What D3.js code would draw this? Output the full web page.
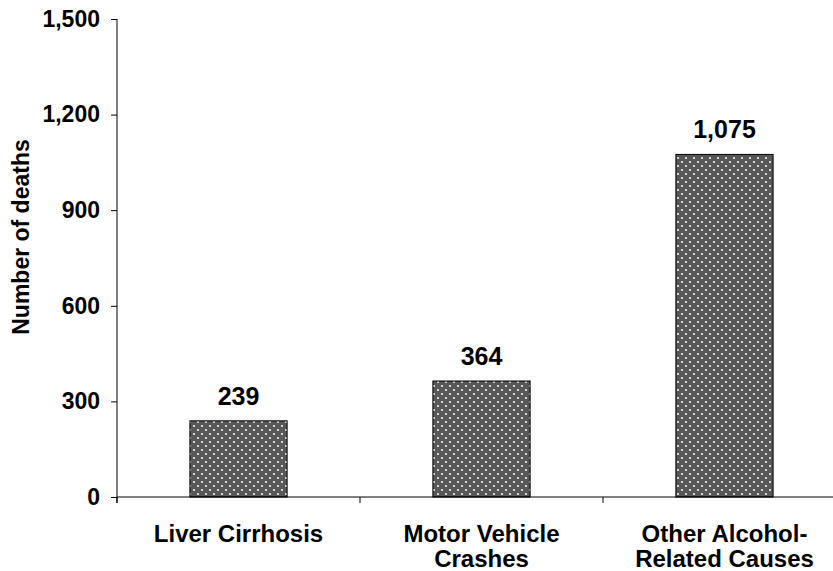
<!DOCTYPE html>
<html>
<head>
<meta charset="utf-8">
<script src="https://cdn.jsdelivr.net/npm/d3@7"></script>
<style>
  body { margin: 0; background: #fff; }
  text { font-family: "Liberation Sans", Arial, sans-serif; font-weight: bold; fill: #000; }
</style>
</head>
<body>
<svg id="chart"></svg>
<script>
var width = 833, height = 571

// data
var categories = [["Liver Cirrhosis"], ["Motor Vehicle", "Crashes"], ["Other Alcohol-", "Related Causes"]]
var deaths = [239, 364, 1075]
var yTicks = [0, 300, 600, 900, 1200, 1500]

var svg = d3.select("#chart")
    .attr("width", width)
    .attr("height", height)

// dotted fill
var defs = svg.append("defs")
var pat = defs.append("pattern")
    .attr("id", "dots")
    .attr("patternUnits", "userSpaceOnUse")
    .attr("width", 8)
    .attr("height", 8)
pat.append("rect").attr("width", 8).attr("height", 8).attr("fill", "#585858")
pat.append("rect").attr("x", 1).attr("y", 1).attr("width", 2).attr("height", 2).attr("fill", "#d4d4d4")
pat.append("rect").attr("x", 5).attr("y", 5).attr("width", 2).attr("height", 2).attr("fill", "#d4d4d4")

var x = d3.scaleBand()
    .domain(d3.range(categories.length))
    .range([117, 117 + 243 * 3])
    .paddingInner(0.6)
    .paddingOuter(0.3)

var y = d3.scaleLinear()
    .domain([0, 1500])
    .range([497, 19])

// y axis
var yAxis = svg.append("g")
    .attr("transform", "translate(117,0)")
    .call(d3.axisLeft(y).tickValues(yTicks).tickSize(6).tickPadding(11).tickFormat(d3.format(",")))
yAxis.select(".domain").attr("stroke", "#000").attr("d", "M0,19V503")
yAxis.selectAll(".tick line").attr("stroke", "#000")
yAxis.selectAll(".tick text")
    .style("font-size", "23px")
    .style("font-family", "'Liberation Sans', Arial, sans-serif")
    .style("font-weight", "bold")
    .attr("fill", "#000")

// bars
svg.selectAll(".bar")
    .data(deaths)
    .enter()
    .append("rect")
        .attr("class", "bar")
        .attr("x", function(d, i) { return x(i) })
        .attr("width", x.bandwidth())
        .attr("y", function(d) { return y(d) })
        .attr("height", function(d) { return y(0) - y(d) })
        .attr("fill", "url(#dots)")
        .attr("stroke", "#000")
        .attr("stroke-width", 1)

// x axis
svg.append("line")
    .attr("x1", 117).attr("x2", width)
    .attr("y1", y(0)).attr("y2", y(0))
    .attr("stroke", "#000")
svg.selectAll(".xtick")
    .data(d3.range(categories.length + 1))
    .enter()
    .append("line")
        .attr("class", "xtick")
        .attr("x1", function(i) { return 117 + i * x.step() })
        .attr("x2", function(i) { return 117 + i * x.step() })
        .attr("y1", y(0))
        .attr("y2", y(0) + 6)
        .attr("stroke", "#000")

// value labels
svg.selectAll(".val")
    .data(deaths)
    .enter()
    .append("text")
        .attr("class", "val")
        .attr("x", function(d, i) { return x(i) + x.bandwidth() / 2 })
        .attr("y", function(d) { return y(d) - 16 })
        .attr("text-anchor", "middle")
        .style("font-size", "25px")
        .text(d3.format(","))

// category labels
var cat = svg.selectAll(".cat")
    .data(categories)
    .enter()
    .append("text")
        .attr("class", "cat")
        .attr("text-anchor", "middle")
        .style("font-size", "24px")
cat.selectAll("tspan")
    .data(function(d, i) { return d.map(function(s) { return { s: s, i: i } }) })
    .enter()
    .append("tspan")
        .attr("x", function(d) { return x(d.i) + x.bandwidth() / 2 })
        .attr("y", function(d, j) { return 542 + j * 25 })
        .text(function(d) { return d.s })

// y label
svg.append("text")
    .attr("transform", "translate(29,237) rotate(-90)")
    .attr("text-anchor", "middle")
    .style("font-size", "23px")
    .text("Number of deaths")
</script>
</body>
</html>
